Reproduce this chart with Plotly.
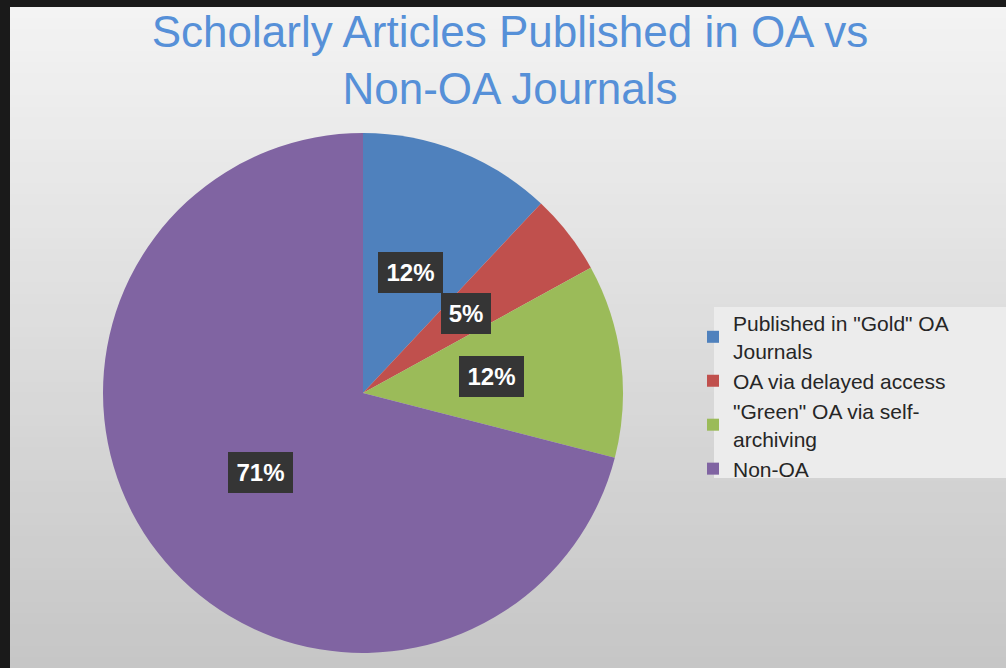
import plotly.graph_objects as go
import math

# ---- data ----
categories = ['Published in "Gold" OA<br>Journals',
              'OA via delayed access',
              '"Green" OA via self-<br>archiving',
              'Non-OA']
values = [12, 5, 12, 71]
colors = ["#4f81bd", "#c0504d", "#9bbb59", "#8064a2"]

title_text = "Scholarly Articles Published in OA vs<br>Non-OA Journals"

# ---- geometry (pixels) ----
W, H = 1006, 668
cx_px, cy_px, R_px = 363, 393, 260

fig = go.Figure()
fig.add_trace(go.Pie(
    labels=categories, values=values,
    marker=dict(colors=colors, line=dict(width=0)),
    sort=False, direction="clockwise", rotation=0,
    textinfo="none", hoverinfo="label+percent",
    domain=dict(x=[(cx_px - R_px) / W, (cx_px + R_px) / W],
                y=[1 - (cy_px + R_px) / H, 1 - (cy_px - R_px) / H]),
))

shapes = []
# gradient background bands inside the dark frame
top, left = 7, 10
nb = 60
c0, c1 = (243, 243, 243), (198, 198, 198)
for i in range(nb):
    t = i / (nb - 1)
    c = tuple(int(round(c0[k] + (c1[k] - c0[k]) * t)) for k in range(3))
    y0 = top + (H - top) * i / nb
    y1 = top + (H - top) * (i + 1) / nb + 1
    shapes.append(dict(type="rect", xref="paper", yref="paper", layer="below",
                       x0=left / W, x1=1, y0=1 - min(y1, H) / H, y1=1 - y0 / H,
                       fillcolor="rgb(%d,%d,%d)" % c, line=dict(width=0)))
# legend background
shapes.append(dict(type="rect", xref="paper", yref="paper", layer="below",
                   x0=714 / W, x1=1, y0=1 - 478 / H, y1=1 - 307 / H,
                   fillcolor="#ececec", line=dict(width=0)))

# data labels
annotations = []
total = sum(values)
cum = 0
for v in values:
    mid = (cum + v / 2) / total * 360
    cum += v
    r = 0.5 * R_px
    px = cx_px + r * math.sin(math.radians(mid))
    py = cy_px - r * math.cos(math.radians(mid))
    txt = f"{round(v / total * 100)}%"
    annotations.append(dict(
        x=px / W, y=1 - py / H, xref="paper", yref="paper",
        xanchor="center", yanchor="middle",
        text=f"<b>{txt}</b>", showarrow=False,
        font=dict(family="Liberation Sans, Arial", size=24, color="white"),
        bgcolor="#353535", borderwidth=0, borderpad=4,
        width=15 * len(txt) + 12, height=33, align="center", valign="middle",
    ))

fig.update_layout(
    width=W, height=H,
    margin=dict(l=0, r=0, t=0, b=0),
    paper_bgcolor="#1a1a1a",
    title=dict(text=title_text, x=510 / W, xanchor="center",
               y=1 - 47 / H, yanchor="top",
               font=dict(family="Liberation Sans, Arial", size=44, color="#5690d8")),
    legend=dict(x=(733 - 40) / W, xanchor="left", y=1 - 303 / H, yanchor="top",
                bgcolor="rgba(0,0,0,0)",
                font=dict(family="Liberation Sans, Arial", size=21, color="#262626"),
                traceorder="normal", itemclick=False),
    shapes=shapes,
    annotations=annotations,
    showlegend=True,
)

fig.write_html("out.html",
               config={"displayModeBar": False},
               post_script="document.body.style.margin='0';"
                           "document.body.style.padding='0';"
                           "document.body.style.background='#1a1a1a';")
